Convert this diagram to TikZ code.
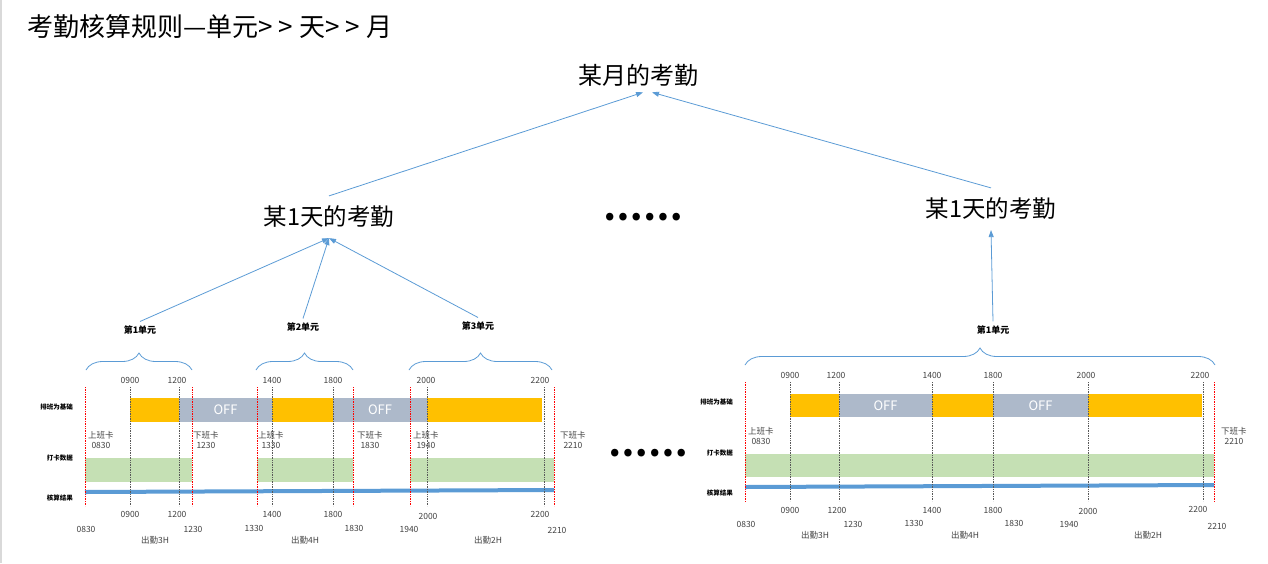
\documentclass[tikz,border=0pt]{standalone}
\usepackage{fontspec}
\setmainfont{Noto Sans CJK SC}
\usetikzlibrary{positioning,arrows.meta,decorations.pathreplacing}
\definecolor{linkblue}{RGB}{91,155,213}
\definecolor{shiftorange}{RGB}{255,192,0}
\definecolor{offgray}{RGB}{173,185,202}
\definecolor{punchgreen}{RGB}{197,224,180}
\definecolor{textgray}{RGB}{64,64,64}
\newcommand\gtsep{\kern6pt}
\tikzset{
	headline/.style={font=\fontsize{26}{28}\selectfont, inner sep=0pt, anchor=west},
	monthnode/.style={font=\fontsize{24}{26}\selectfont, inner xsep=1pt, inner ysep=6pt},
	daynode/.style={font=\fontsize{23.5}{26}\selectfont, inner xsep=1pt, inner ysep=10pt},
	unitnode/.style={font=\bfseries\fontsize{9}{10}\selectfont, inner sep=4pt},
	rowlab/.style={font=\bfseries\fontsize{6.5}{7}\selectfont, inner sep=0pt, anchor=east},
	tlab/.style={font=\fontsize{8.5}{9}\selectfont, text=textgray, inner sep=0pt},
	punch/.style={font=\fontsize{8.5}{10.5}\selectfont, text=textgray, inner sep=0pt, anchor=north west, align=center},
	offtext/.style={text=white, font=\fontsize{13}{14}\selectfont, inner sep=0pt},
	moredots/.style={font=\bfseries\fontsize{35}{36}\selectfont, inner sep=0pt},
	arr/.style={linkblue, line width=0.8pt, -{Triangle[length=7pt,width=5pt]}},
	ubrace/.style={linkblue, line width=0.8pt, decorate, decoration={brace, amplitude=17pt}},
	redline/.style={red, densely dotted, line width=0.7pt},
	grayline/.style={black!65, densely dotted, line width=0.7pt},
	resultbar/.style={linkblue, line width=4pt},
}
\begin{document}
\begin{tikzpicture}[x=1pt,y=-1pt]
\useasboundingbox (0,0) rectangle (1268,563);
\draw[black!15, line width=1.5pt] (0.75,0) -- (0.75,563);
\node[headline] (title) at (27,27) {考勤核算规则—单元>\gtsep{}>\gtsep{}天>\gtsep{}>\gtsep{}月};

% tree
\node[monthnode] (month) at (638,75) {某月的考勤};
\node[daynode] (dayL) at (329,217) {某1天的考勤};
\node[daynode] (dayR) at (991,209) {某1天的考勤};
\node[moredots] (dotsTop) at (643,217) {……};
\node[unitnode] (uL1) at (140,330) {第1单元};
\node[unitnode] (uL2) at (303,327) {第2单元};
\node[unitnode] (uL3) at (478,326) {第3单元};
\node[unitnode] (uR1) at (993,330) {第1单元};
\draw[arr] (dayL.north) -- ([xshift=5pt]month.south);
\draw[arr] (dayR.north) -- ([xshift=14pt]month.south);
\foreach \u in {uL1,uL2,uL3}
	\draw[arr] (\u.north) -- (dayL.south);
\draw[arr] (uR1.north) -- (dayR.south);

% braces
\draw[ubrace] (86,370) -- (192,370);
\draw[ubrace] (256,370) -- (353,370);
\draw[ubrace] (409,370) -- (552,370);
\draw[ubrace] (745,365) -- (1215,365);

% left day: bars
\fill[shiftorange] (130,398) rectangle (179,422);
\fill[offgray] (179,398) rectangle (272,422);
\fill[shiftorange] (272,398) rectangle (333,422);
\fill[offgray] (333,398) rectangle (427,422);
\fill[shiftorange] (427,398) rectangle (542,422);
\node[offtext] (offL1) at (225.5,410) {OFF};
\node[offtext] (offL2) at (380,410) {OFF};
\fill[punchgreen] (85,458) rectangle (192,482);
\fill[punchgreen] (257,458) rectangle (353,482);
\fill[punchgreen] (410,458) rectangle (554,482);
\draw[resultbar] (85,492) -- (554,490);
\foreach \x in {130,179,272,333,427,544}
	\draw[grayline] (\x,387) -- (\x,506);
\foreach \x in {85,192,257,353,410,554}
	\draw[redline] (\x,387) -- (\x,506);

% left day: labels
\node[rowlab] (rowL1) at (73,407) {排班为基础};
\node[rowlab] (rowL2) at (73,458) {打卡数据};
\node[rowlab] (rowL3) at (73,498) {核算结果};
\foreach \x/\t [count=\i] in {130/0900,177/1200,272/1400,333/1800,426/2000,540/2200}
	\node[tlab] (topL\i) at (\x,380) {\t};
\foreach \x/\y/\t [count=\i] in {130/514/0900,177/514/1200,272/514/1400,333/514/1800,428/516/2000,540/514/2200}
	\node[tlab] (botL\i) at (\x,\y) {\t};
\foreach \x/\y/\t [count=\i] in {86/529/0830,193/529/1230,254/528/1330,354/528/1830,409/529/1940,557/530/2210}
	\node[tlab] (cardL\i) at (\x,\y) {\t};
\foreach \x/\t [count=\i] in {88/上班卡\\0830,193/下班卡\\1230,258/上班卡\\1330,357/下班卡\\1830,413/上班卡\\1940,560/下班卡\\2210}
	\node[punch] (punchL\i) at (\x,431) {\t};
\node[tlab] (workL1) at (155,540) {出勤3H};
\node[tlab] (workL2) at (305,540) {出勤4H};
\node[tlab] (workL3) at (488,540) {出勤2H};

\node[moredots] (dotsBot) at (648,453) {……};

% right day: bars
\fill[shiftorange] (790,394) rectangle (839,417);
\fill[offgray] (839,394) rectangle (932,417);
\fill[shiftorange] (932,394) rectangle (993,417);
\fill[offgray] (993,394) rectangle (1088,417);
\fill[shiftorange] (1088,394) rectangle (1202,417);
\node[offtext] (offR1) at (885.5,405.5) {OFF};
\node[offtext] (offR2) at (1040.5,405.5) {OFF};
\fill[punchgreen] (745,454) rectangle (1214,477);
\draw[resultbar] (745,487) -- (1214,485);
\foreach \x in {790,839,932,993,1088,1203}
	\draw[grayline] (\x,382) -- (\x,501);
\foreach \x in {745,1214}
	\draw[redline] (\x,382) -- (\x,502);

% right day: labels
\node[rowlab] (rowR1) at (733,402) {排班为基础};
\node[rowlab] (rowR2) at (733,453) {打卡数据};
\node[rowlab] (rowR3) at (733,493) {核算结果};
\foreach \x/\t [count=\i] in {790/0900,836/1200,932/1400,993/1800,1086/2000,1200/2200}
	\node[tlab] (topR\i) at (\x,375) {\t};
\foreach \x/\y/\t [count=\i] in {790/510/0900,837/510/1200,932/510/1400,993/510/1800,1088/511/2000,1198/509/2200}
	\node[tlab] (botR\i) at (\x,\y) {\t};
\foreach \x/\y/\t [count=\i] in {746/524/0830,853/524/1230,914/523/1330,1014/523/1830,1069/524/1940,1217/526/2210}
	\node[tlab] (cardR\i) at (\x,\y) {\t};
\node[punch] (punchR1) at (748,427) {上班卡\\0830};
\node[punch] (punchR2) at (1221,427) {下班卡\\2210};
\node[tlab] (workR1) at (815,535) {出勤3H};
\node[tlab] (workR2) at (965,535) {出勤4H};
\node[tlab] (workR3) at (1148,535) {出勤2H};
\end{tikzpicture}
\end{document}
